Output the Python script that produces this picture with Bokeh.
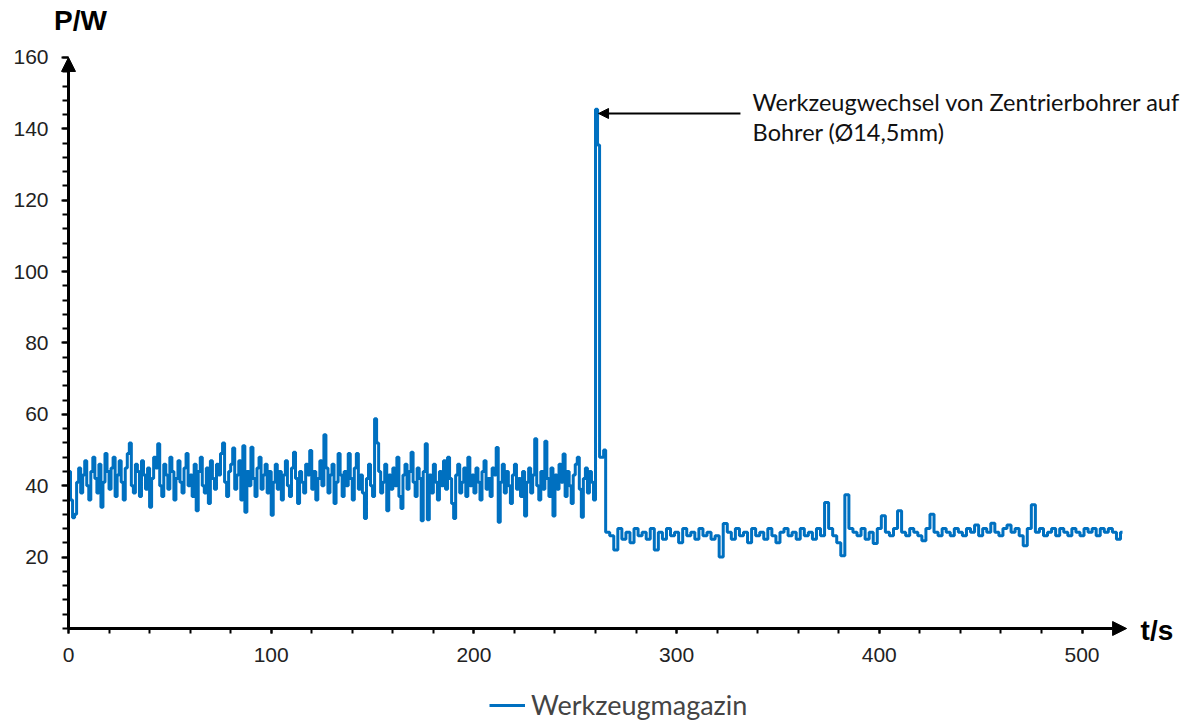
from bokeh.plotting import figure
from bokeh.models import (Arrow, NormalHead, Label, Legend, LegendItem,
                          FixedTicker, Range1d, LinearAxis)
from bokeh.embed import file_html
from bokeh.resources import INLINE

# Power draw of the tool magazine, sampled at 1 s before the tool change
# and every 2 s afterwards (t in s, P in W)
t_before = list(range(0, 265))
p_before = [
    44, 36, 31, 32, 41, 45, 38, 43, 47, 40, 36, 44, 48, 42, 38, 46, 34, 41, 49, 44,
    39, 45, 48, 37, 43, 47, 41, 36, 45, 49, 52, 40, 38, 46, 44, 37, 47, 43, 39, 45,
    34, 42, 48, 45, 51.8, 40, 37, 46, 43, 39, 48, 44, 36, 42, 47, 41, 38, 45, 49, 40,
    43, 37, 46, 33, 44, 48, 40, 38, 45, 35, 47, 42, 39, 46, 43, 49, 52, 41, 37, 44,
    46, 50.6, 39, 43, 47, 36, 51.2, 32.6, 44, 40, 50.8, 42, 37, 45, 48, 39, 43, 46, 38, 44,
    31.7, 41, 46, 39, 44, 36, 43, 47, 40, 37, 45, 49.4, 42, 35, 44, 41, 38, 46, 43, 49.9,
    39, 44, 36, 42, 47, 40, 54.3, 45, 38, 43, 46, 35, 41, 49, 43, 37, 44, 40, 49, 42,
    36, 45, 49, 39, 43, 38, 30.8, 42, 46, 40, 37, 58.8, 52, 44, 38, 41, 46, 33, 43, 39,
    45, 40, 48, 37, 33.6, 43, 46, 39, 44, 49.4, 41, 37, 45, 42, 30.2, 44, 51.8, 30.5, 43, 38,
    46, 41, 36, 44, 40, 47, 39, 48, 42, 35, 30.8, 43, 46, 38, 41, 45, 37, 48, 40, 43,
    38, 45, 41, 36, 44, 47, 39, 42, 37, 45, 43, 50.7, 29.8, 41, 46, 38, 44, 40, 35, 43,
    46, 39, 42, 37, 44, 31.5, 41, 45, 38, 43, 53.2, 40, 36, 44, 39, 52.5, 42, 37, 45, 31.5,
    43, 39, 46, 41, 48.9, 37, 44, 40, 35, 43, 46, 48, 39, 31.2, 42, 45, 38, 44, 41, 36,
    145.5, 135.5, 48, 48, 50,
]

t_after = list(range(265, 521, 2)) + [520]
p_after = [
    27, 26, 22, 28, 25, 27, 24, 28, 26, 27, 25, 28, 22, 27, 25, 28, 26, 27, 24, 28,
    26, 27, 25, 28, 26, 27, 25, 26, 20, 29.4, 27, 25, 28, 26, 27, 24, 28, 26, 27, 25,
    28, 26, 24, 27, 28, 26, 27, 25, 28, 26, 27, 25, 28, 26, 35.3, 28, 26, 24, 20.4, 37.5,
    28, 27, 26, 28, 25, 27, 23.8, 28, 31.6, 27, 26, 28, 33, 27, 26, 28, 27, 26, 24.6, 28,
    32, 27, 26, 28, 27, 26, 28, 27, 26, 28, 27, 29, 26, 28, 27, 29.5, 27, 26, 28, 29,
    27, 28, 26, 23.2, 28, 34.7, 27, 28, 26, 27, 28, 26, 28, 27, 26, 28, 27, 26, 28, 27,
    28, 26, 28, 27, 28, 27, 25, 27, 27,
]

t_all = t_before + t_after
p_all = p_before + p_after

x_ticks = [0, 100, 200, 300, 400, 500]
x_minor = list(range(0, 501, 20))
y_ticks = [20, 40, 60, 80, 100, 120, 140, 160]
y_minor = list(range(0, 161, 4))

series_name = "Werkzeugmagazin"
note_line1 = "Werkzeugwechsel von Zentrierbohrer auf"
note_line2 = "Bohrer (Ø14,5mm)"

BLUE = "#0070C0"
TICK_FONT = "Liberation Sans"
NOTE_FONT = "Lato"

W, H = 1194, 722
X_END = 522          # tip of the time axis arrow
Y_END = 160          # tip of the power axis arrow

# the frame spans the whole canvas; the axes sit at t = 0 and P = 0
PX_PER_S = 2.027
PX_PER_W = 3.569
ORIGIN_X, ORIGIN_Y = 68, 628
x_range = Range1d(-ORIGIN_X / PX_PER_S, (W - ORIGIN_X) / PX_PER_S)
y_range = Range1d(-(H - ORIGIN_Y) / PX_PER_W, ORIGIN_Y / PX_PER_W)

p = figure(width=W, height=H, output_backend="svg", toolbar_location=None,
           x_range=x_range, y_range=y_range,
           x_axis_location=None, y_axis_location=None,
           min_border=0)
p.outline_line_color = None
p.xgrid.visible = False
p.ygrid.visible = False
p.background_fill_color = "white"
p.border_fill_color = "white"

r = p.step(t_all, p_all, mode="after", line_color=BLUE, line_width=3)

xaxis = LinearAxis(fixed_location=0,
                   ticker=FixedTicker(ticks=x_ticks, minor_ticks=x_minor))
yaxis = LinearAxis(fixed_location=0,
                   ticker=FixedTicker(ticks=y_ticks, minor_ticks=y_minor))
p.add_layout(xaxis, "below")
p.add_layout(yaxis, "left")

for ax in (xaxis, yaxis):
    ax.axis_line_color = None
    ax.major_tick_line_color = "black"
    ax.minor_tick_line_color = "black"
    ax.major_tick_line_width = 2
    ax.minor_tick_line_width = 2
    ax.major_tick_in = 0
    ax.minor_tick_in = 0
    ax.major_label_text_font = TICK_FONT
    ax.major_label_text_font_size = "21px"
    ax.major_label_text_color = "#222222"

xaxis.major_tick_out = 5
xaxis.minor_tick_out = 5
xaxis.major_label_standoff = 14
yaxis.major_tick_out = 7
yaxis.minor_tick_out = 6
yaxis.major_label_standoff = 13

# axis lines with arrow heads
p.add_layout(Arrow(end=NormalHead(size=14, fill_color="black", line_color="black"),
                   x_start=0, y_start=0, x_end=0, y_end=Y_END,
                   line_color="black", line_width=3))
p.add_layout(Arrow(end=NormalHead(size=14, fill_color="black", line_color="black"),
                   x_start=0, y_start=0, x_end=X_END, y_end=0,
                   line_color="black", line_width=3))

# axis titles
p.add_layout(Label(x=5.9, y=170.4, text="P/W", text_font=TICK_FONT,
                   text_font_style="bold", text_font_size="28px",
                   text_align="center", text_baseline="alphabetic",
                   text_color="black"))
p.add_layout(Label(x=528.9, y=-0.6, text="t/s", text_font=TICK_FONT,
                   text_font_style="bold", text_font_size="28px",
                   text_align="left", text_baseline="middle",
                   text_color="black"))

# note on the tool change peak
p.add_layout(Arrow(end=NormalHead(size=10, fill_color="black", line_color="black"),
                   x_start=331.5, y_start=144.3, x_end=261.5, y_end=144.3,
                   line_color="black", line_width=2))
p.add_layout(Label(x=337.5, y=147.6, text=note_line1, text_font=NOTE_FONT,
                   text_font_size="23.5px", text_baseline="middle",
                   text_color="#111111"))
p.add_layout(Label(x=337.5, y=139.2, text=note_line2, text_font=NOTE_FONT,
                   text_font_size="23.5px", text_baseline="middle",
                   text_color="#111111"))

legend = Legend(items=[LegendItem(label=series_name, renderers=[r])],
                location=(489, 1), orientation="horizontal",
                border_line_color=None, background_fill_alpha=0,
                label_text_font=NOTE_FONT, label_text_font_size="27px",
                glyph_width=36, label_standoff=6, padding=0, margin=0)
p.add_layout(legend, "center")

open("out.html", "w").write(file_html(p, INLINE))
